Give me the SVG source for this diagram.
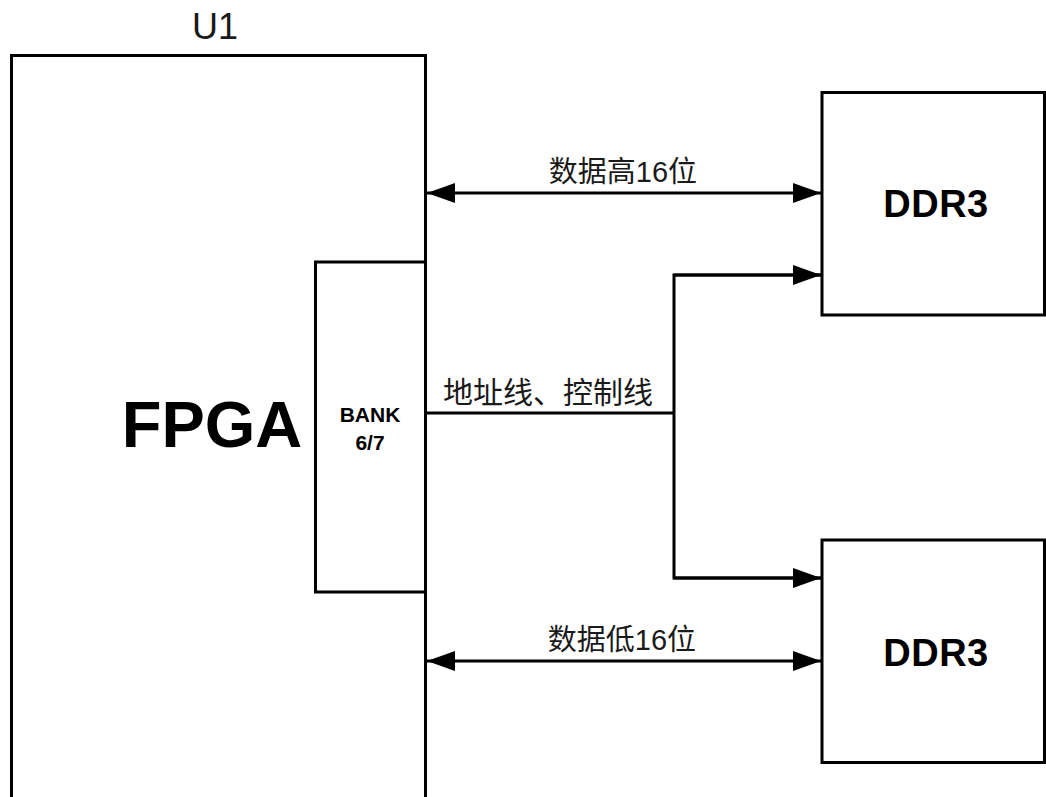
<svg xmlns="http://www.w3.org/2000/svg" width="1046" height="797" viewBox="0 0 1046 797">
<style>
.box{fill:#fff;stroke:#000;stroke-width:3}
.wire{fill:none;stroke:#000;stroke-width:3}
.lbl{font-family:"Liberation Sans","Noto Sans CJK SC",sans-serif;fill:#1a1a1a}
.b{font-family:"Liberation Sans",Arial,sans-serif;font-weight:bold;fill:#000}
.ddr{font-size:38px;letter-spacing:0.5px}
</style>
<defs>
<marker id="ah" viewBox="0 0 28 20" refX="28" refY="10" markerWidth="28" markerHeight="20" markerUnits="userSpaceOnUse" orient="auto-start-reverse">
<path d="M0,0 L28,10 L0,20 Z" fill="#000"/>
</marker>
</defs>
<g id="u1">
<rect class="box" x="11.5" y="55.5" width="414" height="760"/>
<text class="lbl" x="215" y="39" font-size="36" text-anchor="middle">U1</text>
<text class="b" x="212" y="447" font-size="65" text-anchor="middle">FPGA</text>
</g>
<g id="bank">
<rect class="box" x="315.5" y="262" width="110" height="330"/>
<text class="b" x="370" y="422" font-size="21" text-anchor="middle">BANK</text>
<text class="b" x="370" y="450" font-size="21" text-anchor="middle">6/7</text>
</g>
<g id="ddr3-top">
<rect class="box" x="822" y="92.5" width="222.5" height="222.5"/>
<text class="b ddr" x="936" y="217" text-anchor="middle">DDR3</text>
</g>
<g id="ddr3-bottom">
<rect class="box" x="822" y="540" width="222.5" height="222.5"/>
<text class="b ddr" x="936" y="666" text-anchor="middle">DDR3</text>
</g>
<g id="connectors">
<line class="wire" x1="427" y1="193" x2="821" y2="193" marker-start="url(#ah)" marker-end="url(#ah)"/>
<line class="wire" x1="427" y1="661" x2="821" y2="661" marker-start="url(#ah)" marker-end="url(#ah)"/>
<polyline class="wire" points="426,413 674,413"/>
<polyline class="wire" points="821,275 674,275 674,578 821,578"/>
<line class="wire" x1="674" y1="275" x2="821" y2="275" marker-end="url(#ah)"/>
<line class="wire" x1="674" y1="578" x2="821" y2="578" marker-end="url(#ah)"/>
<text class="lbl" x="623" y="182" font-size="29" text-anchor="middle">数据高16位</text>
<text class="lbl" x="622" y="650" font-size="29" text-anchor="middle">数据低16位</text>
<text class="lbl" x="548" y="403" font-size="30" text-anchor="middle">地址线、控制线</text>
</g>
</svg>
